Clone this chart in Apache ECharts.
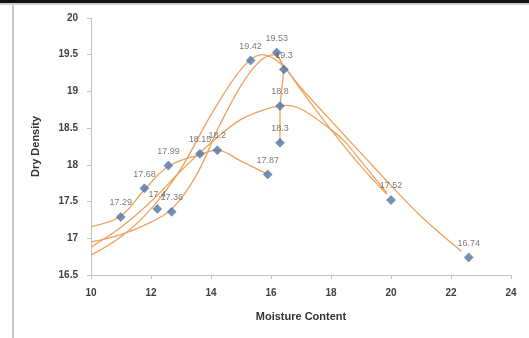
<!DOCTYPE html>
<html>
<head>
<meta charset="utf-8">
<script src="https://cdn.jsdelivr.net/npm/echarts@6/dist/echarts.min.js"></script>
<style>
  html, body { margin: 0; padding: 0; background: #fff; }
  #frame { position: absolute; left: 0; top: 0; width: 529px; height: 338px; }
  #topbar { position: absolute; left: 0; top: 0; width: 529px; height: 3px; background: #111; }
  #topline { position: absolute; left: 0; top: 3px; width: 529px; height: 2px; background: #d0d0d0; }
  #leftline { position: absolute; left: 12px; top: 5px; width: 2px; height: 333px; background: #c8c8c8; }
  #chart { position: absolute; left: 0; top: 0; width: 529px; height: 338px; }
</style>
</head>
<body>
<div id="frame">
  <div id="chart"></div>
  <div id="topbar"></div>
  <div id="topline"></div>
  <div id="leftline"></div>
</div>
<script>
// measured points
const moisture = [10.99, 11.78, 12.58, 13.63, 14.21, 15.89, 12.21, 12.69, 15.32, 16.19, 16.43, 16.3, 16.3, 20.0, 22.59]
const density  = [17.29, 17.68, 17.99, 18.15, 18.2, 17.87, 17.4, 17.36, 19.42, 19.53, 19.3, 18.8, 18.3, 17.52, 16.74]

// fitted curves
const curveAx = [10, 10.99, 11.78, 12.58, 13.63, 14.21, 15.0, 15.89]
const curveAy = [17.16, 17.3, 17.66, 17.98, 18.14, 18.2, 18.05, 17.87]
const curvePx = [10, 11, 12, 13, 14, 15, 15.7, 16.4, 17, 18, 19, 19.86]
const curvePy = [16.77, 17.02, 17.4, 17.95, 18.68, 19.3, 19.5, 19.35, 19.02, 18.48, 17.98, 17.6]
const curveSx = [10, 11, 12, 12.7, 13.5, 14.3, 15, 15.6, 16.1, 16.5, 17, 18, 19, 20, 21, 22.35]
const curveSy = [16.95, 17.05, 17.22, 17.4, 17.85, 18.55, 19.08, 19.4, 19.5, 19.3, 19.05, 18.6, 18.16, 17.72, 17.3, 16.82]
const curveRx = [10, 11, 12, 13, 14, 15, 16, 16.5, 17, 18, 18.5, 19, 19.86]
const curveRy = [16.88, 17.15, 17.5, 17.92, 18.3, 18.62, 18.78, 18.81, 18.76, 18.48, 18.3, 18.05, 17.62]
const connectX = [16.19, 16.43, 16.3, 16.3]
const connectY = [19.53, 19.3, 18.8, 18.3]

const xTicks = [10, 12, 14, 16, 18, 20, 22, 24]
const yTicks = [16.5, 17, 17.5, 18, 18.5, 19, 19.5, 20]

const TREND = '#EFA25E'
const pair = (xs, ys) => xs.map((x, i) => [x, ys[i]])

const chart = echarts.init(document.getElementById('chart'), null, { renderer: 'canvas' })

const curveSeries = [
  [curveAx, curveAy],
  [curvePx, curvePy],
  [curveSx, curveSy],
  [curveRx, curveRy],
].map(([xs, ys]) => ({
  type: 'line',
  data: pair(xs, ys),
  smooth: 0.35,
  showSymbol: false,
  silent: true,
  lineStyle: { color: TREND, width: 1.3 },
  z: 2,
}))

chart.setOption({
  animation: false,
  textStyle: { fontFamily: 'Liberation Sans' },
  grid: { left: 91, top: 18, width: 420, height: 257 },
  xAxis: {
    type: 'value',
    min: xTicks[0],
    max: xTicks[xTicks.length - 1],
    interval: 2,
    name: 'Moisture Content',
    nameLocation: 'middle',
    nameGap: 36,
    nameTextStyle: { fontSize: 11, fontWeight: 'bold', color: '#333' },
    axisLine: { show: true, lineStyle: { color: '#c0c0c0' } },
    axisTick: { show: true, length: 4, lineStyle: { color: '#c0c0c0' } },
    axisLabel: { fontSize: 10, fontWeight: 'bold', color: '#404040', margin: 13 },
    splitLine: { show: false },
  },
  yAxis: {
    type: 'value',
    min: yTicks[0],
    max: yTicks[yTicks.length - 1],
    interval: 0.5,
    name: 'Dry Density',
    nameLocation: 'middle',
    nameGap: 50,
    nameRotate: 90,
    nameTextStyle: { fontSize: 11, fontWeight: 'bold', color: '#333' },
    axisLine: { show: true, lineStyle: { color: '#c0c0c0' } },
    axisTick: { show: true, length: 4, lineStyle: { color: '#c0c0c0' } },
    axisLabel: { fontSize: 10, fontWeight: 'bold', color: '#404040', margin: 13 },
    splitLine: { show: false },
  },
  series: [
    ...curveSeries,
    {
      type: 'line',
      data: pair(connectX, connectY),
      showSymbol: false,
      silent: true,
      lineStyle: { color: TREND, width: 1.3 },
      z: 2,
    },
    {
      type: 'scatter',
      data: pair(moisture, density),
      symbol: 'diamond',
      symbolSize: 9,
      itemStyle: { color: '#4F76A8', borderColor: '#3A5A85', borderWidth: 0.5 },
      label: {
        show: true,
        position: 'top',
        distance: 5,
        fontSize: 9,
        color: '#595959',
        formatter: p => String(p.value[1]),
      },
      z: 5,
    },
  ],
})
</script>
</body>
</html>
